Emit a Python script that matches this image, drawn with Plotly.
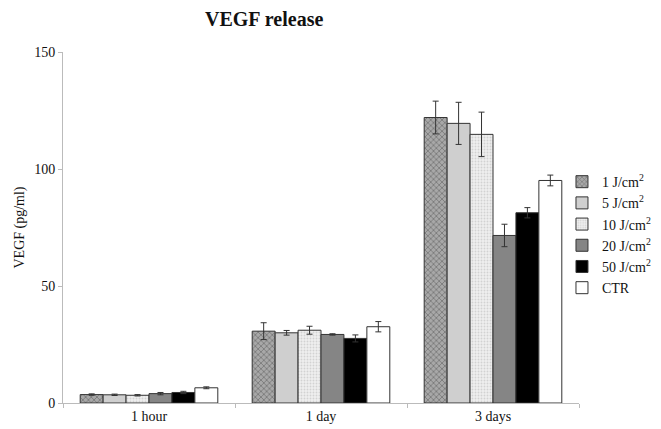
import plotly.graph_objects as go

categories = ["1 hour", "1 day", "3 days"]
series_names = ["1 J/cm<sup>2</sup>", "5 J/cm<sup>2</sup>", "10 J/cm<sup>2</sup>",
                "20 J/cm<sup>2</sup>", "50 J/cm<sup>2</sup>", "CTR"]
values = [
    [3.6, 30.7, 122.0],
    [3.5, 30.0, 119.5],
    [3.3, 31.1, 114.8],
    [4.0, 29.3, 71.6],
    [4.5, 27.6, 81.3],
    [6.5, 32.6, 95.1],
]
errors = [
    [0.3, 3.6, 7.0],
    [0.3, 1.0, 9.0],
    [0.3, 1.7, 9.5],
    [0.5, 0.3, 4.8],
    [0.5, 1.5, 2.2],
    [0.4, 2.2, 2.3],
]
colors = ["#a8a8a8", "#cfcfcf", "#eeeeee", "#858585", "#000000", "#ffffff"]
patterns = [
    dict(shape="x", fgcolor="#404040", size=4, solidity=0.35),
    dict(shape=""),
    dict(shape=".", fgcolor="#b5b5b5", size=3, solidity=0.3),
    dict(shape=""),
    dict(shape=""),
    dict(shape=""),
]

fig = go.Figure()
for name, v, e, c, p in zip(series_names, values, errors, colors, patterns):
    fig.add_trace(go.Bar(
        x=categories, y=v, name=name,
        marker=dict(color=c, line=dict(color="#333333", width=1), pattern=p),
        error_y=dict(type="data", array=e, color="#333333", thickness=1, width=3),
    ))

fig.update_layout(
    width=653, height=421,
    margin=dict(l=55, r=82, t=44, b=26, autoexpand=False),
    paper_bgcolor="white", plot_bgcolor="white",
    font=dict(family="Liberation Serif", size=14, color="#111111"),
    barmode="group", bargap=0.2, bargroupgap=0,
    showlegend=True,
    legend=dict(x=0.967, xanchor="left", y=0.675, yanchor="top",
                font=dict(size=14), tracegroupgap=4, itemwidth=30,
                bgcolor="rgba(0,0,0,0)"),
    annotations=[dict(text="<b>VEGF release</b>", x=0.39, y=1.0, xref="paper", yref="paper",
                      xanchor="center", yanchor="bottom", yshift=20, showarrow=False,
                      font=dict(size=20, color="#111111"))],
)
fig.update_xaxes(showline=True, linecolor="#bbbbbb", linewidth=1, automargin=False,
                 ticks="outside", tickson="boundaries", ticklen=4, tickcolor="#bbbbbb",
                 showgrid=False, tickfont=dict(size=14))
fig.update_yaxes(range=[0, 150], dtick=50, showline=True, linecolor="#bbbbbb", linewidth=1,
                 automargin=False,
                 ticks="outside", ticklen=4, tickcolor="#bbbbbb", showgrid=False, zeroline=False,
                 title=dict(text="VEGF (pg/ml)", font=dict(size=14), standoff=6),
                 tickfont=dict(size=14))

fig.write_html("out.html")
